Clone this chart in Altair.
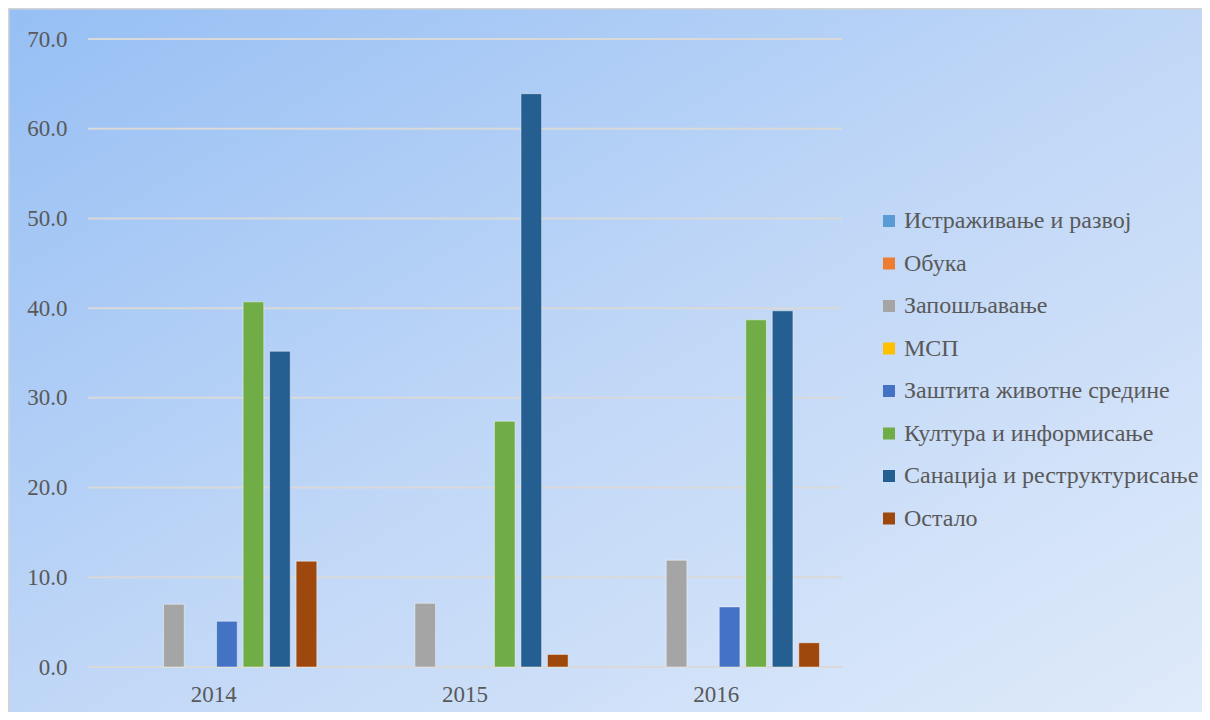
import altair as alt
import pandas as pd

years = ["2014", "2015", "2016"]
series = [
    "Истраживање и развој",
    "Обука",
    "Запошљавање",
    "МСП",
    "Заштита животне средине",
    "Култура и информисање",
    "Санација и реструктурисање",
    "Остало",
]
colors = ["#5B9BD5", "#ED7D31", "#A5A5A5", "#FFC000", "#4472C4", "#70AD47", "#255E91", "#9E480E"]

istrazivanje = [0.0, 0.0, 0.0]
obuka = [0.0, 0.0, 0.0]
zaposljavanje = [7.0, 7.1, 11.9]
msp = [0.0, 0.0, 0.0]
zastita = [5.1, 0.0, 6.7]
kultura = [40.7, 27.4, 38.7]
sanacija = [35.2, 63.9, 39.7]
ostalo = [11.8, 1.4, 2.7]

tick_values = [0, 10, 20, 30, 40, 50, 60, 70]

all_vals = [istrazivanje, obuka, zaposljavanje, msp, zastita, kultura, sanacija, ostalo]
rows = []
for s, vals in zip(series, all_vals):
    for y, v in zip(years, vals):
        if v > 0:
            rows.append({"year": y, "series": s, "value": v})
df = pd.DataFrame(rows)

W, H = 754, 628
PL, PT, PR, PB = 80, 31, 360, 45
FONT = "Times New Roman, Liberation Serif, serif"
TXT = "#595959"

y_axis = alt.Axis(
    title=None, values=tick_values, format=".1f", domain=False, ticks=False,
    grid=False, zindex=2, labelFont=FONT, labelFontSize=23, labelColor=TXT,
    labelPadding=21,
)
y_scale = alt.Scale(domain=[0, 70], nice=False)

bg = alt.Chart(pd.DataFrame({"a": [0]})).mark_rect(
    color=alt.LinearGradient(
        gradient="linear",
        x1=0, y1=0, x2=1, y2=1,
        stops=[
            alt.GradientStop(color="#96BFF4", offset=0),
            alt.GradientStop(color="#C0D7F7", offset=0.5),
            alt.GradientStop(color="#E0EBFA", offset=1),
        ],
    ),
    stroke="#D4D4D4",
    strokeWidth=3,
).encode(
    x=alt.value(-PL),
    x2=alt.value(W + PR + 10),
    y=alt.value(-PT),
    y2=alt.value(H + PB + 10),
)

grid = alt.Chart(pd.DataFrame({"t": tick_values})).mark_rule(
    color="#D9D9D9", strokeWidth=2
).encode(
    y=alt.Y("t:Q", scale=y_scale, axis=y_axis),
    x=alt.value(0),
    x2=alt.value(W),
)

bars = alt.Chart(df).mark_bar(
    stroke="#FFFFFF", strokeOpacity=0.45, strokeWidth=1
).encode(
    x=alt.X(
        "year:N",
        sort=years,
        scale=alt.Scale(domain=years, paddingInner=0, paddingOuter=0),
        axis=alt.Axis(
            title=None, labelAngle=0, domain=False, ticks=False, grid=False, zindex=2,
            labelFont=FONT, labelFontSize=23, labelColor=TXT, labelPadding=16,
        ),
    ),
    xOffset=alt.XOffset(
        "series:N",
        scale=alt.Scale(domain=series, paddingInner=0.22, paddingOuter=0.85),
    ),
    y=alt.Y("value:Q", scale=y_scale, axis=y_axis),
    color=alt.Color(
        "series:N",
        scale=alt.Scale(domain=series, range=colors),
        legend=alt.Legend(
            title=None, orient="none", legendX=789, legendY=170, zindex=2,
            symbolType="square", symbolSize=144, symbolStrokeWidth=0,
            labelFont=FONT, labelFontSize=24, labelColor=TXT, labelOffset=3,
            rowPadding=18.5, labelLimit=400,
        ),
    ),
)

chart = alt.layer(bg, grid, bars).properties(
    width=W,
    height=H,
    padding={"left": PL, "top": PT, "right": PR, "bottom": PB},
    autosize=alt.AutoSizeParams(type="none"),
).configure_view(stroke=None).configure(background="#FFFFFF")

chart.save("out.html", embed_options={"renderer": "svg", "actions": False})
